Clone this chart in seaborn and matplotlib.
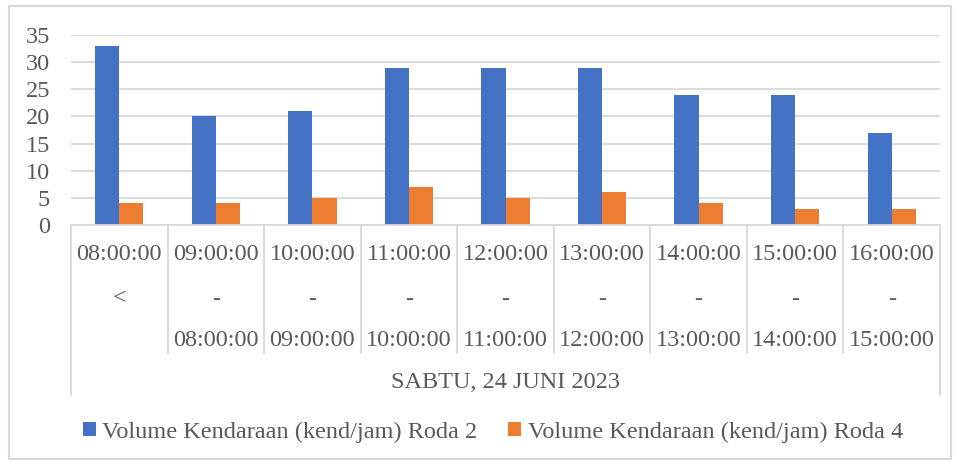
import numpy as np
import pandas as pd
import matplotlib
matplotlib.use("Agg")
import matplotlib.pyplot as plt
import matplotlib.transforms as mtrans
from matplotlib.patches import Rectangle
import seaborn as sns

# ── Data ─────────────────────────────────────────────────────────────────────
jam_awal = ["08:00:00", "09:00:00", "10:00:00", "11:00:00", "12:00:00",
            "13:00:00", "14:00:00", "15:00:00", "16:00:00"]
pemisah = ["<", "-", "-", "-", "-", "-", "-", "-", "-"]
jam_akhir = ["", "08:00:00", "09:00:00", "10:00:00", "11:00:00",
             "12:00:00", "13:00:00", "14:00:00", "15:00:00"]
group_label = "SABTU, 24 JUNI 2023"
roda2 = [33, 20, 21, 29, 29, 29, 24, 24, 17]
roda4 = [4, 4, 5, 7, 5, 6, 4, 3, 3]
series_names = ["Volume Kendaraan (kend/jam) Roda 2",
                "Volume Kendaraan (kend/jam) Roda 4"]
colors = ["#4472C4", "#ED7D31"]

cats = [f"{a}|{b}" for a, b in zip(jam_awal, jam_akhir)]
df = pd.DataFrame({
    "kategori": cats * 2,
    "volume": roda2 + roda4,
    "seri": [series_names[0]] * len(cats) + [series_names[1]] * len(cats),
})

# ── Style ────────────────────────────────────────────────────────────────────
sns.set_style("white")
plt.rcParams["font.family"] = ["Liberation Serif", "DejaVu Serif"]
TXT = "#595959"
GRID = "#D9D9D9"
FS = 17.5

fig = plt.figure(figsize=(9.57, 4.66), dpi=100)
ax = fig.add_axes([71 / 957, 1 - 225 / 466, (940 - 71) / 957, 190 / 466])

sns.barplot(data=df, x="kategori", y="volume", hue="seri", order=cats,
            hue_order=series_names, palette=colors, width=0.5, gap=0,
            saturation=1, linewidth=0, ax=ax, legend=True)

ax.set_ylim(0, 35)
ax.set_xlim(-0.5, len(cats) - 0.5)
ax.set_yticks(range(0, 36, 5))
ax.yaxis.grid(True, color=GRID, lw=1.3)
ax.set_axisbelow(True)
for s in ["top", "right", "left"]:
    ax.spines[s].set_visible(False)
ax.spines["bottom"].set_color(GRID)
ax.spines["bottom"].set_linewidth(1.3)
ax.tick_params(axis="y", length=0, pad=15, labelsize=FS, labelcolor=TXT)
ax.set_xticks([])
ax.set_xlabel("")
ax.set_ylabel("")

# multi-level category axis (table style)
trans = mtrans.blended_transform_factory(ax.transData, ax.transAxes)
n = len(cats)
for i in range(n + 1):
    outer = i in (0, n)
    ax.plot([i - 0.5, i - 0.5], [0, -0.895 if outer else -0.674],
            transform=trans, color=GRID, lw=1.3, clip_on=False)
for i in range(n):
    ax.text(i, -0.155, jam_awal[i], transform=trans, ha="center", va="center",
            fontsize=FS, color=TXT)
    ax.text(i, -0.39, pemisah[i], transform=trans, ha="center", va="center",
            fontsize=FS, color=TXT)
    ax.text(i, -0.61, jam_akhir[i], transform=trans, ha="center", va="center",
            fontsize=FS, color=TXT)
ax.text((n - 1) / 2, -0.83, group_label, transform=trans, ha="center",
        va="center", fontsize=FS, color=TXT)

# legend
handles, labels = ax.get_legend_handles_labels()
ax.get_legend().remove()
fig.legend(handles, labels, loc="center", bbox_to_anchor=(0.515, 0.073),
           ncol=2, frameon=False, fontsize=FS, labelcolor=TXT,
           handlelength=0.55, handleheight=0.55, handletextpad=0.25,
           columnspacing=1.25)

# chart border
fig.patches.append(Rectangle((9 / 957, 1 - 459 / 466), 942 / 957, 453 / 466,
                             transform=fig.transFigure, fill=False,
                             edgecolor=GRID, lw=1.5))

fig.savefig("out.png", dpi=100)
